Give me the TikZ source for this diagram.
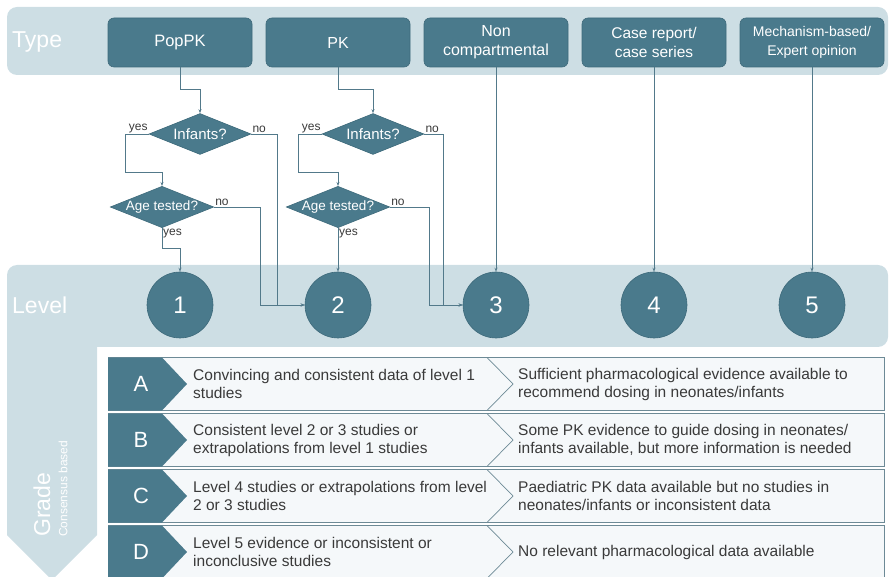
\documentclass[tikz,border=0pt]{standalone}
\usepackage{fontspec}
\setmainfont{Liberation Sans}
\usetikzlibrary{shapes.geometric,arrows.meta}
\definecolor{teal1}{HTML}{4A7A8C}
\definecolor{tealb}{HTML}{3E6A7B}
\definecolor{bandc}{HTML}{CDDEE4}
\definecolor{linec}{HTML}{52798A}
\definecolor{rowf}{HTML}{F5F8FA}
\definecolor{rowb}{HTML}{6D8A96}
\definecolor{txt}{HTML}{3A3A3A}
\newcommand\graderow[5]{%
  \fill[rowf] (108,#1) rectangle (884,#1+53);
  \draw[rowb, line width=0.7pt] (108,#1) rectangle (884,#1+53);
  \fill[teal1] (108,#1) -- (162,#1) -- (187,#1+26.5) -- (162,#1+53) -- (108,#1+53) -- cycle;
  \draw[rowb, line width=0.7pt] (487,#1) -- (513,#1+26.5) -- (487,#1+53);
  \node[letter] (L#5) at (141,#1+26.5) {#2};
  \node[rowtxt] (a#5) at (193,#1+26.5) {#3};
  \node[rowtxt] (b#5) at (518,#1+26.5) {#4};
}
\begin{document}
\begin{tikzpicture}[x=1pt,y=-1pt,
 typebox/.style={draw=tealb, fill=teal1, rounded corners=6pt, minimum width=144pt, minimum height=49pt, text=white, align=center, inner sep=0pt, line width=0.6pt},
 lvl/.style={circle, draw=tealb, fill=teal1, minimum size=66pt, inner sep=0pt, text=white, font=\fontsize{24}{24}\selectfont, line width=0.6pt},
 dia/.style={diamond, draw=tealb, fill=teal1, shape aspect=2.5, inner sep=0pt, minimum width=102pt, minimum height=41pt, text=white, line width=0.6pt},
 arr/.style={draw=linec, line width=0.7pt, -{Stealth[length=4pt,width=3pt]}},
 lbl/.style={text=txt, font=\fontsize{12}{12}\selectfont, inner sep=1pt},
 bandtxt/.style={text=white, font=\fontsize{23}{23}\selectfont, inner sep=0pt},
 rowtxt/.style={text=txt, font=\fontsize{15.5}{18}\selectfont, align=left, anchor=west, inner sep=0pt},
 letter/.style={text=white, font=\fontsize{22}{22}\selectfont, inner sep=0pt}
]
\useasboundingbox (0,0) rectangle (889,577);
\clip (0,0) rectangle (889,577);
% bands
\fill[bandc, rounded corners=10pt] (7,7) rectangle (888,75);
\fill[bandc, rounded corners=10pt] (7,265) rectangle (888,347);
\fill[bandc] (7,300) -- (97,300) -- (97,535) -- (52,580) -- (7,535) -- cycle;
\node[bandtxt, anchor=west] (typelbl) at (12,42) {Type};
\node[bandtxt, anchor=west] (levellbl) at (12,305) {Level};
\node[bandtxt, rotate=90, anchor=west] (gradelbl) at (42,537) {Grade};
\node[text=white, font=\fontsize{12}{12}\selectfont, inner sep=0pt, rotate=90, anchor=west] (conslbl) at (63,537) {Consensus based};
% type boxes
\node[typebox, font=\fontsize{16.5}{19}\selectfont] (popPK) at (180,42.5) {PopPK};
\node[typebox, font=\fontsize{16}{19}\selectfont] (pk) at (338,42.5) {PK};
\node[typebox, font=\fontsize{16}{19}\selectfont] (nc) at (496,42.5) {Non\\compartmental};
\node[typebox, font=\fontsize{15.5}{19}\selectfont] (cr) at (654,42.5) {Case report/\\case series};
\node[typebox, font=\fontsize{14}{19}\selectfont] (mb) at (812,42.5) {Mechanism-based/\\Expert opinion};
% levels
\node[lvl] (c1) at (180,305) {1};
\node[lvl] (c2) at (338,305) {2};
\node[lvl] (c3) at (496,305) {3};
\node[lvl] (c4) at (654,305) {4};
\node[lvl] (c5) at (812,305) {5};
% diamonds
\node[dia, font=\fontsize{15}{15}\selectfont] (inf1) at (200,134) {Infants?};
\node[dia, font=\fontsize{13.5}{13.5}\selectfont] (age1) at (162,207) {Age tested?};
\node[dia, font=\fontsize{15}{15}\selectfont] (inf2) at (373,134) {Infants?};
\node[dia, font=\fontsize{13.5}{13.5}\selectfont] (age2) at (338,207) {Age tested?};
% connectors PopPK
\draw[arr] (popPK.south) -- ++(0,22) -| (inf1.north);
\draw[arr] (inf1.west) -| ++(-23,38) -| (age1.north);
\draw[arr] (inf1.east) -- ++(26,0) |- (c2.west);
\draw[arr] (age1.east) -- ++(46,0) |- (c2.west);
\draw[arr] (age1.south) -- ++(0,20) -| (c1.north);
% connectors PK
\draw[arr] (pk.south) -- ++(0,22) -| (inf2.north);
\draw[arr] (inf2.west) -| ++(-23,38) -| (age2.north);
\draw[arr] (inf2.east) -- ++(19,0) |- (c3.west);
\draw[arr] (age2.east) -- ++(39,0) |- (c3.west);
\draw[arr] (age2.south) -- (c2.north);
% straight
\draw[arr] (nc.south) -- (c3.north);
\draw[arr] (cr.south) -- (c4.north);
\draw[arr] (mb.south) -- (c5.north);
% labels
\node[lbl, anchor=south east] (y1) at (inf1.west) {yes};
\node[lbl, anchor=south west] (n1) at (inf1.east) {no};
\node[lbl, anchor=south west] (n2) at (age1.east) {no};
\node[lbl, anchor=north west] (y2) at (age1.south) {yes};
\node[lbl, anchor=south east] (y3) at (inf2.west) {yes};
\node[lbl, anchor=south west] (n3) at (inf2.east) {no};
\node[lbl, anchor=south west] (n4) at (age2.east) {no};
\node[lbl, anchor=north west] (y4) at (age2.south) {yes};
% grade rows
\graderow{357.5}{A}{Convincing and consistent data of level 1\\studies}{Sufficient pharmacological evidence available to\\recommend dosing in neonates/infants}{A}
\graderow{413.5}{B}{Consistent level 2 or 3 studies or\\extrapolations from level 1 studies}{Some PK evidence to guide dosing in neonates/\\infants available, but more information is needed}{B}
\graderow{469.5}{C}{Level 4 studies or extrapolations from level\\2 or 3 studies}{Paediatric PK data available but no studies in\\neonates/infants or inconsistent data}{C}
\graderow{525.5}{D}{Level 5 evidence or inconsistent or\\inconclusive studies}{No relevant pharmacological data available}{D}
\end{tikzpicture}
\end{document}
